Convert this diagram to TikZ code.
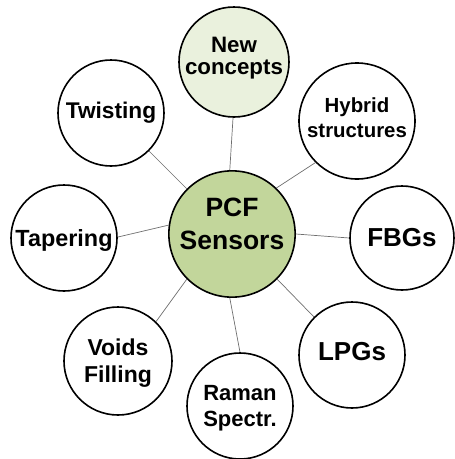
\documentclass[tikz,border=0pt]{standalone}
\usepackage{fontspec}
\setmainfont{Liberation Sans}
\usepackage{tikz}

\definecolor{hubgreen}{HTML}{C2D69B}
\definecolor{palegreen}{HTML}{EAF1DD}
\definecolor{spokegray}{HTML}{6E6E6E}

\begin{document}
\begin{tikzpicture}[
  x=1pt, y=-1pt,
  topic/.style={draw, circle, line width=1.6pt, fill=white, align=center,
                inner sep=0pt, font=\bfseries},
  hub/.style={topic, fill=hubgreen, minimum size=124pt, text depth=20pt,
              font=\bfseries\fontsize{26.5}{33}\selectfont},
  spoke/.style={draw=spokegray, line width=0.7pt}
]
  \useasboundingbox (0,0) rectangle (455,459);

  \node[hub] (pcf) at (232,234) {PCF\\Sensors};

  \node[topic, fill=palegreen, minimum size=110pt, text depth=12pt,
        font=\bfseries\fontsize{22.3}{21.5}\selectfont] (concepts) at (234,62) {New\\concepts};
  \node[topic, minimum size=106pt,
        font=\bfseries\fontsize{22.7}{26}\selectfont] (twist) at (111,113) {Twisting};
  \node[topic, minimum size=116pt, text depth=7pt,
        font=\bfseries\fontsize{20.4}{25}\selectfont] (hybrid) at (357,121) {Hybrid\\structures};
  \node[topic, minimum size=106pt, text depth=0pt,
        font=\bfseries\fontsize{23.4}{27}\selectfont] (taper) at (64,238) {Tapering};
  \node[topic, minimum size=104pt,
        font=\bfseries\fontsize{26}{30}\selectfont] (fbg) at (402,238) {FBGs};
  \node[topic, minimum size=108pt, text depth=0pt,
        font=\bfseries\fontsize{23}{27}\selectfont] (voids) at (118,361) {Voids\\Filling};
  \node[topic, minimum size=106pt, text depth=0pt,
        font=\bfseries\fontsize{22}{26}\selectfont] (raman) at (240,406) {Raman\\Spectr.};
  \node[topic, minimum size=106pt, text depth=7pt,
        font=\bfseries\fontsize{26}{30}\selectfont] (lpg) at (352,355) {LPGs};

  % spokes from the hub
  \draw[spoke] (pcf.92) -- (concepts.-91);
  \draw[spoke] (pcf.135) -- (twist.-45);
  \draw[spoke] (pcf.46) -- (hybrid.225);
  \draw[spoke] (pcf.172) -- (taper.1);
  \draw[spoke] (pcf.0) -- (fbg.180);
  \draw[spoke] (pcf.225) -- (voids.46);
  \draw[spoke] (pcf.268) -- (raman.90);
  \draw[spoke] (pcf.-45) -- (lpg.135);
\end{tikzpicture}
\end{document}
